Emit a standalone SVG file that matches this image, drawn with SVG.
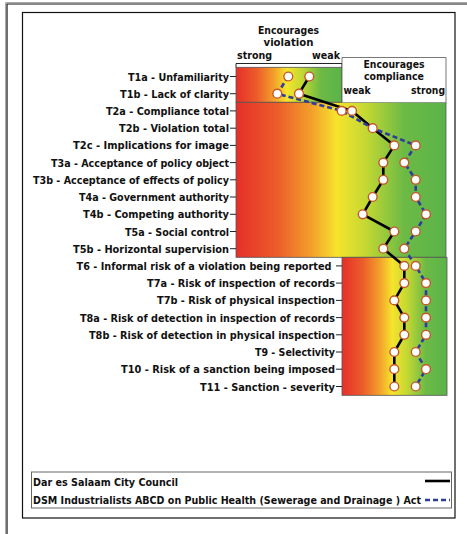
<svg xmlns="http://www.w3.org/2000/svg" width="467" height="534" viewBox="0 0 467 534">
<defs>
<linearGradient id="grad" x1="0" y1="0" x2="1" y2="0">
<stop offset="0" stop-color="#e62f2a"/>
<stop offset="0.2" stop-color="#ec5d2a"/>
<stop offset="0.36" stop-color="#f3a02b"/>
<stop offset="0.48" stop-color="#f6e42c"/>
<stop offset="0.62" stop-color="#c3d833"/>
<stop offset="0.8" stop-color="#6cba45"/>
<stop offset="1" stop-color="#5ab349"/>
</linearGradient>
<style>
.lbl{font-family:"DejaVu Sans Condensed","DejaVu Sans",sans-serif;font-weight:bold;font-size:11px;fill:#111;text-anchor:end}
.hdr{font-family:"DejaVu Sans Condensed","DejaVu Sans",sans-serif;font-weight:bold;font-size:10.5px;fill:#111;text-anchor:middle}
.ax{font-family:"DejaVu Sans Condensed","DejaVu Sans",sans-serif;font-weight:bold;font-size:11px;fill:#111}
.leg{font-family:"DejaVu Sans Condensed","DejaVu Sans",sans-serif;font-weight:bold;font-size:11px;fill:#111}
.tick{fill:none;stroke:#222;stroke-width:1}
.blk{fill:url(#grad);stroke:#555;stroke-width:0.8}
.sb{fill:none;stroke:#000;stroke-width:2.6;stroke-linejoin:round}
.sd{fill:none;stroke:#2e3d9c;stroke-width:2.6;stroke-dasharray:5 3}
.pt{fill:#fff;stroke:#c9572c;stroke-width:1.4}
</style>
</defs>
<rect x="0" y="0" width="467" height="534" fill="#fff"/>
<g id="frame">
<path d="M5.5,534 V2.5 H467" fill="none" stroke="#aaa" stroke-width="1"/>
<path d="M7,534 V4 H467" fill="none" stroke="#111" stroke-width="1.2"/>
<rect x="22.5" y="12.5" width="432.5" height="505.5" fill="#fff" stroke="#111" stroke-width="1.2"/>
</g>
<g id="blocks">
<rect id="block1" class="blk" x="236" y="67.3" width="106" height="35"/>
<rect id="block2" class="blk" x="236" y="102.3" width="210" height="155"/>
<rect id="block3" class="blk" x="342" y="257.3" width="105" height="138"/>
</g>
<g id="header-violation">
<text class="hdr" x="288.5" y="33.5" textLength="61" lengthAdjust="spacingAndGlyphs">Encourages</text>
<text class="hdr" x="288.5" y="46" textLength="50" lengthAdjust="spacingAndGlyphs">violation</text>
<text class="ax" x="237" y="58.5" textLength="35" lengthAdjust="spacingAndGlyphs">strong</text>
<text class="ax" x="312" y="58.5" textLength="28" lengthAdjust="spacingAndGlyphs">weak</text>
<path class="tick" d="M236,67.3 V63.5 H342 V67.3"/>
</g>
<g id="header-compliance">
<path d="M342,102.3 V57.5 H446 V102.3" fill="#fff" stroke="#555" stroke-width="0.8"/>
<text class="hdr" x="394" y="67.5" textLength="61" lengthAdjust="spacingAndGlyphs">Encourages</text>
<text class="hdr" x="394" y="80" textLength="60" lengthAdjust="spacingAndGlyphs">compliance</text>
<text class="ax" x="343.5" y="94" textLength="27" lengthAdjust="spacingAndGlyphs">weak</text>
<text class="ax" x="445" y="94" text-anchor="end" textLength="34" lengthAdjust="spacingAndGlyphs">strong</text>
</g>
<g id="labels">
<text class="lbl" x="229" y="80.5" textLength="101" lengthAdjust="spacingAndGlyphs">T1a - Unfamiliarity</text>
<text class="lbl" x="229" y="97.7" textLength="109" lengthAdjust="spacingAndGlyphs">T1b - Lack of clarity</text>
<text class="lbl" x="229" y="114.9" textLength="123" lengthAdjust="spacingAndGlyphs">T2a - Compliance total</text>
<text class="lbl" x="229" y="132.2" textLength="110" lengthAdjust="spacingAndGlyphs">T2b - Violation total</text>
<text class="lbl" x="229" y="149.4" textLength="156" lengthAdjust="spacingAndGlyphs">T2c - Implications for image</text>
<text class="lbl" x="229" y="166.6" textLength="178" lengthAdjust="spacingAndGlyphs">T3a - Acceptance of policy object</text>
<text class="lbl" x="229" y="183.8" textLength="196" lengthAdjust="spacingAndGlyphs">T3b - Acceptance of effects of policy</text>
<text class="lbl" x="229" y="201" textLength="150" lengthAdjust="spacingAndGlyphs">T4a - Government authority</text>
<text class="lbl" x="229" y="218.3" textLength="146" lengthAdjust="spacingAndGlyphs">T4b - Competing authority</text>
<text class="lbl" x="229" y="235.5" textLength="104" lengthAdjust="spacingAndGlyphs">T5a - Social control</text>
<text class="lbl" x="229" y="252.7" textLength="156" lengthAdjust="spacingAndGlyphs">T5b - Horizontal supervision</text>
<text class="lbl" x="331.5" y="269.9" textLength="255" lengthAdjust="spacingAndGlyphs">T6 - Informal risk of a violation being reported</text>
<text class="lbl" x="335" y="287.1" textLength="188" lengthAdjust="spacingAndGlyphs">T7a - Risk of inspection of records</text>
<text class="lbl" x="335" y="304.4" textLength="178" lengthAdjust="spacingAndGlyphs">T7b - Risk of physical inspection</text>
<text class="lbl" x="335" y="321.6" textLength="255" lengthAdjust="spacingAndGlyphs">T8a - Risk of detection in inspection of records</text>
<text class="lbl" x="335" y="338.8" textLength="246" lengthAdjust="spacingAndGlyphs">T8b - Risk of detection in physical inspection</text>
<text class="lbl" x="335" y="356" textLength="80" lengthAdjust="spacingAndGlyphs">T9 - Selectivity</text>
<text class="lbl" x="335" y="373.2" textLength="214" lengthAdjust="spacingAndGlyphs">T10 - Risk of a sanction being imposed</text>
<text class="lbl" x="335" y="390.5" textLength="135" lengthAdjust="spacingAndGlyphs">T11 - Sanction - severity</text>
<path class="tick" d="M230,76.5H236M230,93.7H236M230,110.9H236M230,128.2H236M230,145.4H236M230,162.6H236M230,179.8H236M230,197H236M230,214.3H236M230,231.5H236M230,248.7H236M336,265.9H342M336,283.1H342M336,300.4H342M336,317.6H342M336,334.8H342M336,352H342M336,369.2H342M336,386.5H342"/>
</g>
<g id="connectors">
<polyline id="series-dsc" class="sb" points="309.3,76.5 299,93.7 352,110.9 372.7,128.2 394.3,145.4 383.3,162.6 383.3,179.8 372.7,197 362.7,214.3 394.3,231.5 383.3,248.7 404.3,265.9 404.3,283.1 394.3,300.4 404.3,317.6 404.3,334.8 394.3,352 394.3,369.2 394.3,386.5"/>
<polyline id="series-dsm" class="sd" points="288.3,76.5 277.3,93.7 341.7,110.9 372.7,128.2 415.7,145.4 404.3,162.6 415.7,179.8 415.7,197 426,214.3 415.7,231.5 404.3,248.7 415.7,265.9 426,283.1 426,300.4 426,317.6 426,334.8 415.7,352 426,369.2 415.7,386.5"/>
</g>
<g id="points">
<circle class="pt" cx="309.3" cy="76.5" r="4.4"/><circle class="pt" cx="299" cy="93.7" r="4.4"/><circle class="pt" cx="352" cy="110.9" r="4.4"/><circle class="pt" cx="372.7" cy="128.2" r="4.4"/><circle class="pt" cx="394.3" cy="145.4" r="4.4"/><circle class="pt" cx="383.3" cy="162.6" r="4.4"/><circle class="pt" cx="383.3" cy="179.8" r="4.4"/><circle class="pt" cx="372.7" cy="197" r="4.4"/><circle class="pt" cx="362.7" cy="214.3" r="4.4"/><circle class="pt" cx="394.3" cy="231.5" r="4.4"/><circle class="pt" cx="383.3" cy="248.7" r="4.4"/><circle class="pt" cx="404.3" cy="265.9" r="4.4"/><circle class="pt" cx="404.3" cy="283.1" r="4.4"/><circle class="pt" cx="394.3" cy="300.4" r="4.4"/><circle class="pt" cx="404.3" cy="317.6" r="4.4"/><circle class="pt" cx="404.3" cy="334.8" r="4.4"/><circle class="pt" cx="394.3" cy="352" r="4.4"/><circle class="pt" cx="394.3" cy="369.2" r="4.4"/><circle class="pt" cx="394.3" cy="386.5" r="4.4"/>
<circle class="pt" cx="288.3" cy="76.5" r="4.4"/><circle class="pt" cx="277.3" cy="93.7" r="4.4"/><circle class="pt" cx="341.7" cy="110.9" r="4.4"/><circle class="pt" cx="415.7" cy="145.4" r="4.4"/><circle class="pt" cx="404.3" cy="162.6" r="4.4"/><circle class="pt" cx="415.7" cy="179.8" r="4.4"/><circle class="pt" cx="415.7" cy="197" r="4.4"/><circle class="pt" cx="426" cy="214.3" r="4.4"/><circle class="pt" cx="415.7" cy="231.5" r="4.4"/><circle class="pt" cx="404.3" cy="248.7" r="4.4"/><circle class="pt" cx="415.7" cy="265.9" r="4.4"/><circle class="pt" cx="426" cy="283.1" r="4.4"/><circle class="pt" cx="426" cy="300.4" r="4.4"/><circle class="pt" cx="426" cy="317.6" r="4.4"/><circle class="pt" cx="426" cy="334.8" r="4.4"/><circle class="pt" cx="415.7" cy="352" r="4.4"/><circle class="pt" cx="426" cy="369.2" r="4.4"/><circle class="pt" cx="415.7" cy="386.5" r="4.4"/>
</g>
<g id="legend">
<rect x="31.5" y="472" width="420" height="36" fill="#fff" stroke="#666" stroke-width="1"/>
<text class="leg" x="33" y="486" textLength="145" lengthAdjust="spacingAndGlyphs">Dar es Salaam City Council</text>
<text class="leg" x="33" y="504" textLength="388" lengthAdjust="spacingAndGlyphs">DSM Industrialists ABCD on Public Health (Sewerage and Drainage ) Act</text>
<line x1="425" y1="481" x2="450" y2="481" stroke="#000" stroke-width="2.6"/>
<line x1="425" y1="500" x2="450" y2="500" stroke="#2e3d9c" stroke-width="2.6" stroke-dasharray="5 3"/>
</g>
</svg>
